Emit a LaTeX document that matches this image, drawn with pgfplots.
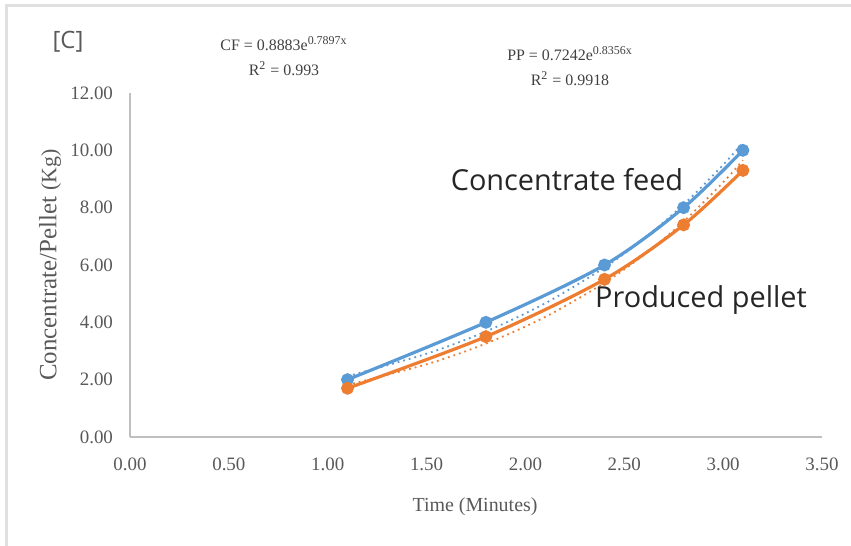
\documentclass[border=0pt]{standalone}
\usepackage{pgfplots}
\pgfplotsset{compat=1.18}
\usepackage{fontspec}
\setmainfont{Liberation Serif}
\newfontfamily\labelfont{Open Sans}
\definecolor{cfblue}{HTML}{5B9BD5}
\definecolor{pporange}{HTML}{ED7D31}
\definecolor{axgray}{HTML}{BFBFBF}
\definecolor{txtgray}{HTML}{595959}
\definecolor{framegray}{HTML}{E0E0E0}

\begin{document}
\begin{tikzpicture}
% page = 851x546 px, 1 px = 0.5 bp
\useasboundingbox (0,0) rectangle (425.5bp,273bp);
\draw[framegray, line width=1.5bp] (3bp,0) -- (3bp,270bp) -- (425.5bp,270bp);

\begin{axis}[
    at={(65bp,54.5bp)}, anchor=origin,
    scale only axis,
    width=346bp, height=172bp,
    xmin=0, xmax=3.5,
    ymin=0, ymax=12,
    xtick={0,0.5,...,3.5},
    ytick={0,2,...,12},
    axis x line=bottom, axis y line=left,
    axis line style={axgray, line width=0.8bp, -},
    major tick length=0pt,
    tick label style={font=\fontsize{9.5}{11}\selectfont, text=txtgray},
    xticklabel style={yshift=-7bp},
    yticklabel style={xshift=-5bp},
    /pgf/number format/.cd, fixed, fixed zerofill, precision=2, assume math mode=true,
    /pgfplots/.cd,
    xlabel={Time (Minutes)},
    ylabel={Concentrate/Pellet {\fontsize{11}{13}\selectfont(Kg)}},
    xlabel style={font=\fontsize{10}{12}\selectfont, text=txtgray,
        at={(axis description cs:0.4986,-0.2035)}, anchor=center},
    ylabel style={font=\fontsize{12.5}{14}\selectfont, text=txtgray,
        at={(axis description cs:-0.1156,0.5)}, anchor=center},
    clip=false,
]
% measured data
\addplot[cfblue, line width=1.6bp, smooth, tension=0.5, mark=*, mark size=2.4bp]
    coordinates {(1.1,2.0)(1.8,4.0)(2.4,6.0)(2.8,8.0)(3.1,10.0)};
\addplot[pporange, line width=1.6bp, smooth, tension=0.5, mark=*, mark size=2.4bp]
    coordinates {(1.1,1.7)(1.8,3.5)(2.4,5.5)(2.8,7.4)(3.1,9.3)};
% exponential trendlines (values from the printed equations)
\addplot[cfblue, line width=0.9bp, dotted, smooth]
    coordinates {(1.1,2.118)(1.5,2.904)(1.8,3.680)(2.1,4.664)(2.4,5.912)(2.6,6.923)(2.8,8.107)(3.0,9.493)(3.1,10.274)};
\addplot[pporange, line width=0.9bp, dotted, smooth]
    coordinates {(1.1,1.816)(1.5,2.536)(1.8,3.259)(2.1,4.187)(2.4,5.380)(2.6,6.359)(2.8,7.516)(3.0,8.883)(3.1,9.656)};
\end{axis}

\node[font=\labelfont\fontsize{12}{14}\selectfont, text=txtgray] at (34bp,252bp) {[C]};
\node[font=\fontsize{8}{12.5}\selectfont, text=black!75, align=center] at (142bp,245bp)
    {CF = 0.8883e\textsuperscript{0.7897x}\\R\textsuperscript{2} = 0.993};
\node[font=\fontsize{8}{12.5}\selectfont, text=black!75, align=center] at (285bp,240bp)
    {PP = 0.7242e\textsuperscript{0.8356x}\\R\textsuperscript{2} = 0.9918};
\node[font=\labelfont\fontsize{14.5}{16}\selectfont, text=black!85] at (283.5bp,183bp) {Concentrate feed};
\node[font=\labelfont\fontsize{14.5}{16}\selectfont, text=black!85] at (350.5bp,123bp) {Produced pellet};
\end{tikzpicture}
\end{document}
